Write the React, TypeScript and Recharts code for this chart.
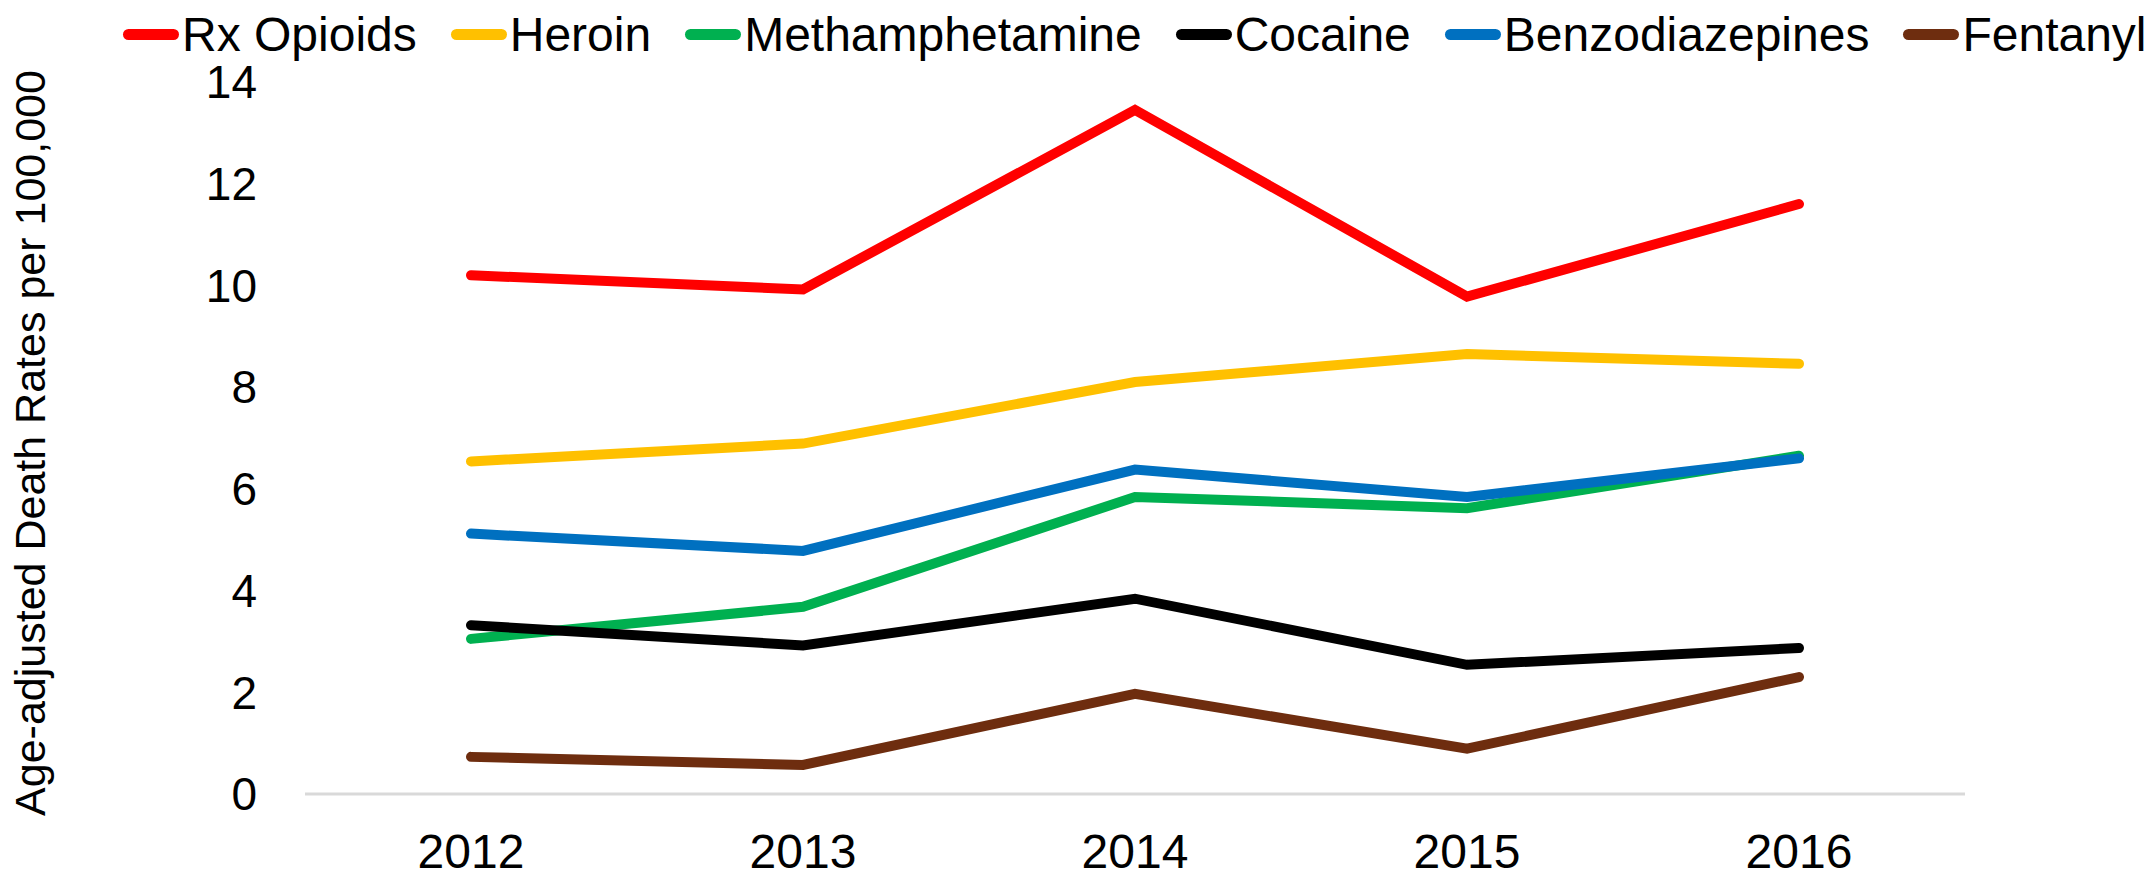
import { LineChart, Line, XAxis, YAxis, Legend } from "recharts";

const years = ["2012", "2013", "2014", "2015", "2016"];

const rxOpioids = [10.2, 9.92, 13.45, 9.78, 11.6];
const heroin = [6.54, 6.89, 8.1, 8.65, 8.46];
const methamphetamine = [3.05, 3.68, 5.84, 5.62, 6.65];
const cocaine = [3.32, 2.92, 3.84, 2.54, 2.87];
const benzodiazepines = [5.12, 4.78, 6.38, 5.84, 6.6];
const fentanyl = [0.73, 0.57, 1.97, 0.89, 2.3];

const yTicks = [0, 2, 4, 6, 8, 10, 12, 14];

const series = [
  { key: "rx", name: "Rx Opioids", color: "#FF0000", values: rxOpioids },
  { key: "heroin", name: "Heroin", color: "#FFC000", values: heroin },
  { key: "meth", name: "Methamphetamine", color: "#00B050", values: methamphetamine },
  { key: "cocaine", name: "Cocaine", color: "#000000", values: cocaine },
  { key: "benzo", name: "Benzodiazepines", color: "#0070C0", values: benzodiazepines },
  { key: "fentanyl", name: "Fentanyl", color: "#6E2D0F", values: fentanyl },
];

const data = years.map((year, i) => {
  const row: Record<string, string | number> = { year };
  series.forEach((s) => {
    row[s.key] = s.values[i];
  });
  return row;
});

const FONT = '"Liberation Sans", Arial, sans-serif';

function LegendContent() {
  return (
    <div
      style={{
        display: "flex",
        alignItems: "center",
        height: 68,
        paddingLeft: 123,
        fontFamily: FONT,
        fontSize: 48,
        color: "#000",
        whiteSpace: "nowrap",
      }}>
      {series.map((s) => (
        <div key={s.key} style={{ display: "flex", alignItems: "center", marginRight: 34 }}>
          <span
            style={{
              display: "inline-block",
              width: 56,
              height: 11,
              borderRadius: 6,
              background: s.color,
              marginRight: 3,
            }}
          />
          <span>{s.name}</span>
        </div>
      ))}
    </div>
  );
}

function YLabel(props: any) {
  const { viewBox } = props;
  const cx = viewBox.x + 30;
  const cy = viewBox.y + viewBox.height / 2 + 5;
  return (
    <text
      x={cx}
      y={cy}
      transform={`rotate(-90, ${cx}, ${cy})`}
      textAnchor="middle"
      dominantBaseline="central"
      fontFamily={FONT}
      fontSize={43}
      fill="#000">
      Age-adjusted Death Rates per 100,000
    </text>
  );
}

export default function App() {
  return (
    <div style={{ position: "absolute", left: 0, top: 0, background: "#fff" }}>
      <LineChart
        width={2153}
        height={878}
        data={data}
        margin={{ top: 82, right: 188, left: 0, bottom: 0 }}>
        <XAxis
          dataKey="year"
          height={84}
          padding={{ left: 166, right: 166 }}
          tickLine={false}
          tickSize={0}
          tickMargin={40}
          axisLine={{ stroke: "#D9D9D9", strokeWidth: 3 }}
          tick={{ fontFamily: FONT, fontSize: 48, fill: "#000" }}
        />
        <YAxis
          width={305}
          domain={[0, 14]}
          ticks={yTicks}
          interval={0}
          axisLine={false}
          tickLine={false}
          tickSize={0}
          tickMargin={48}
          tick={{ fontFamily: FONT, fontSize: 46, fill: "#000" }}
          label={<YLabel />}
        />
        <Legend
          verticalAlign="middle"
          align="center"
          layout="horizontal"
          wrapperStyle={{ top: 0, left: 0, width: 2153 }}
          content={<LegendContent />}
        />
        {series.map((s) => (
          <Line
            key={s.key}
            type="linear"
            dataKey={s.key}
            name={s.name}
            stroke={s.color}
            strokeWidth={10}
            strokeLinecap="round"
            dot={false}
            activeDot={false}
            isAnimationActive={false}
          />
        ))}
      </LineChart>
    </div>
  );
}
